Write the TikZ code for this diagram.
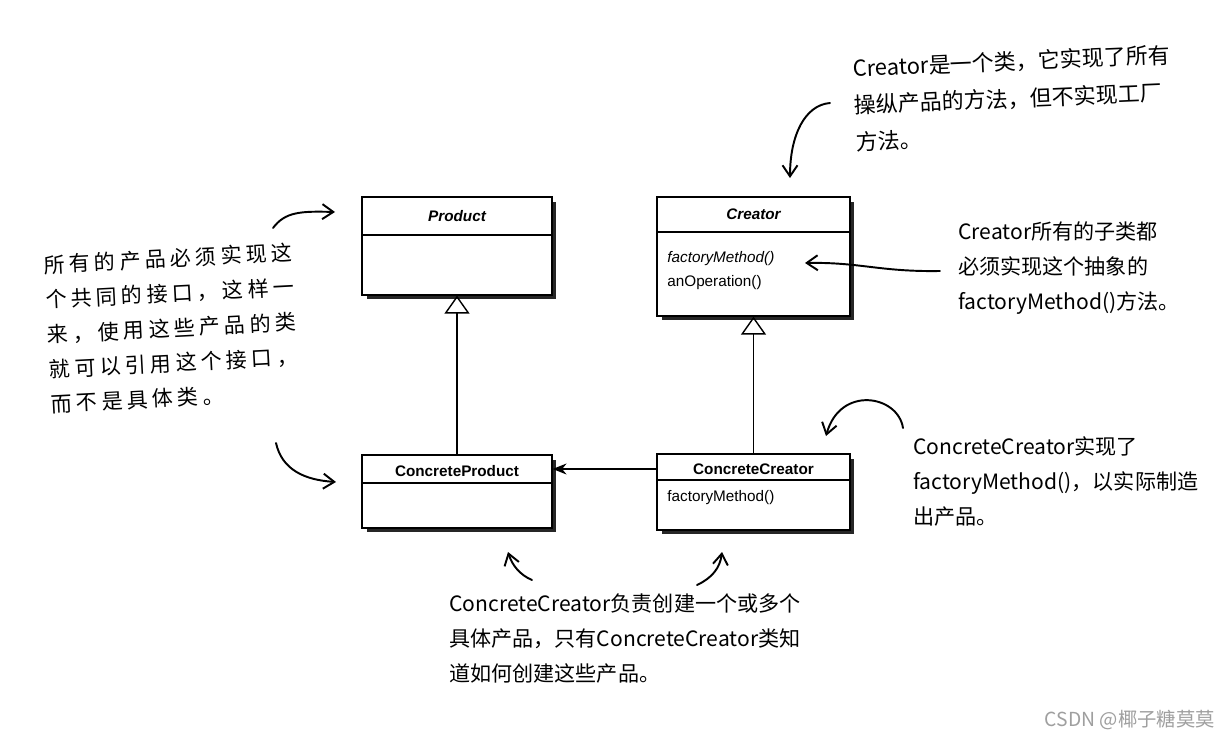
\documentclass[tikz,border=0pt]{standalone}
\usepackage{fontspec}
\setmainfont{Liberation Sans}
\newfontfamily\hand{Noto Sans CJK SC}
\newfontfamily\handwide[LetterSpace=20]{Noto Sans CJK SC}
\usetikzlibrary{positioning, arrows.meta, shadows}

\begin{document}
\begin{tikzpicture}[
  x=0.02cm, y=-0.02cm,
  classbox/.style={draw=black, fill=white, line width=0.7pt, inner sep=0pt,
    drop shadow={shadow xshift=0.09cm, shadow yshift=-0.09cm, fill=black!85, opacity=1}},
  classname/.style={font=\fontsize{8.7}{10.5}\selectfont\bfseries},
  abstractname/.style={font=\fontsize{8.7}{10.5}\selectfont\bfseries\itshape},
  member/.style={anchor=west, inner sep=0pt, font=\fontsize{8.7}{10.5}\selectfont},
  divider/.style={line width=0.6pt},
  isa/.style={-{Triangle[open, length=0.36cm, width=0.5cm]}, line width=0.8pt},
  uses/.style={-{Stealth[length=0.28cm, width=0.22cm]}, line width=0.8pt},
  note/.style={anchor=north west, align=left, inner sep=0pt,
    font=\hand\fontsize{12}{20}\selectfont},
  scribble/.style={-{Straight Barb[length=0.22cm, width=0.3cm]}, line width=1.1pt, line cap=round}
]

% canvas
\path[fill=white, use as bounding box] (0,0) rectangle (1230,740);

% abstract side
\node[classbox, minimum width=3.8cm, minimum height=1.96cm] (product) at (457,246) {};
\node[abstractname] (productname) at (457,216) {Product};
\draw[divider] (product.west |- 0,235) -- (product.east |- 0,235);

\node[classbox, minimum width=3.86cm, minimum height=2.38cm] (creator) at (753.5,256.5) {};
\node[abstractname] (creatorname) at (753.5,214) {Creator};
\draw[divider] (creator.west |- 0,232) -- (creator.east |- 0,232);
\node[member, font=\fontsize{8.7}{10.5}\selectfont\itshape] (creatorfm) at (667,259) {factoryMethod()};
\node[member] (creatorop) at (667,283) {anOperation()};

% concrete side
\node[classbox, minimum width=3.8cm, minimum height=1.46cm] (concreteproduct) at (457,491.5) {};
\node[classname] (cpname) at (457,471) {ConcreteProduct};
\draw[divider] (concreteproduct.west |- 0,483) -- (concreteproduct.east |- 0,483);

\node[classbox, minimum width=3.86cm, minimum height=1.52cm] (concretecreator) at (753.5,492) {};
\node[classname] (ccname) at (753.5,469) {ConcreteCreator};
\draw[divider] (concretecreator.west |- 0,480) -- (concretecreator.east |- 0,480);
\node[member] (ccfm) at (667,498) {factoryMethod()};

% inheritance and creation
\draw[isa] (concreteproduct) -- (product);
\draw[isa] (concretecreator) -- (creator);
\draw[uses] (concretecreator.west |- ccname) -- (concreteproduct.east |- ccname);

% handwritten notes
\node[note, rotate=2.5, font=\hand\fontsize{12.5}{21}\selectfont] (topnote) at (852,58)
  {Creator是一个类，它实现了所有\\操纵产品的方法，但不实现工厂\\方法。};
\node[note, rotate=3, font=\handwide\fontsize{12}{19.8}\selectfont] (leftnote) at (43,255)
  {所有的产品必须实现这\\个共同的接口，这样一\\来，使用这些产品的类\\就可以引用这个接口，\\而不是具体类。};
\node[note] (abstractnote) at (958,221)
  {Creator所有的子类都\\必须实现这个抽象的\\factoryMethod()方法。};
\node[note] (concretenote) at (913,436)
  {ConcreteCreator实现了\\factoryMethod()，以实际制造\\出产品。};
\node[note] (bottomnote) at (449,593)
  {ConcreteCreator负责创建一个或多个\\具体产品，只有ConcreteCreator类知\\道如何创建这些产品。};

% note arrows
\coordinate (toptail) at (830,103);
\coordinate (toptip) at (790,178);
\coordinate (prodtail) at (273,228);
\coordinate (prodtip) at (335,212);
\coordinate (cptail) at (276,443);
\coordinate (cptip) at (336,482);
\coordinate (fmtail) at (940,271);
\coordinate (fmtip) at (805,263);
\coordinate (cctail) at (903,428);
\coordinate (cctip) at (826,436);
\coordinate (btmltail) at (532,580);
\coordinate (btmltip) at (508,552);
\coordinate (btmrtail) at (697,585);
\coordinate (btmrtip) at (722,552);

\draw[scribble] (toptail) .. controls (805,105) and (790,135) .. (toptip);
\draw[scribble] (prodtail) .. controls (285,212) and (300,211) .. (prodtip);
\draw[scribble] (cptail) .. controls (282,470) and (305,480) .. (cptip);
\draw[scribble] (fmtail) .. controls (880,272) and (860,262) .. (fmtip);
\draw[scribble] (cctail) .. controls (898,395) and (840,385) .. (cctip);
\draw[scribble] (btmltail) .. controls (520,575) and (512,565) .. (btmltip);
\draw[scribble] (btmrtail) .. controls (712,578) and (720,568) .. (btmrtip);

% watermark
\node[anchor=east, inner sep=0pt, text=gray!75, font=\hand\fontsize{11}{13}\selectfont] (mark) at (1215,720) {CSDN @椰子糖莫莫};

\end{tikzpicture}
\end{document}
